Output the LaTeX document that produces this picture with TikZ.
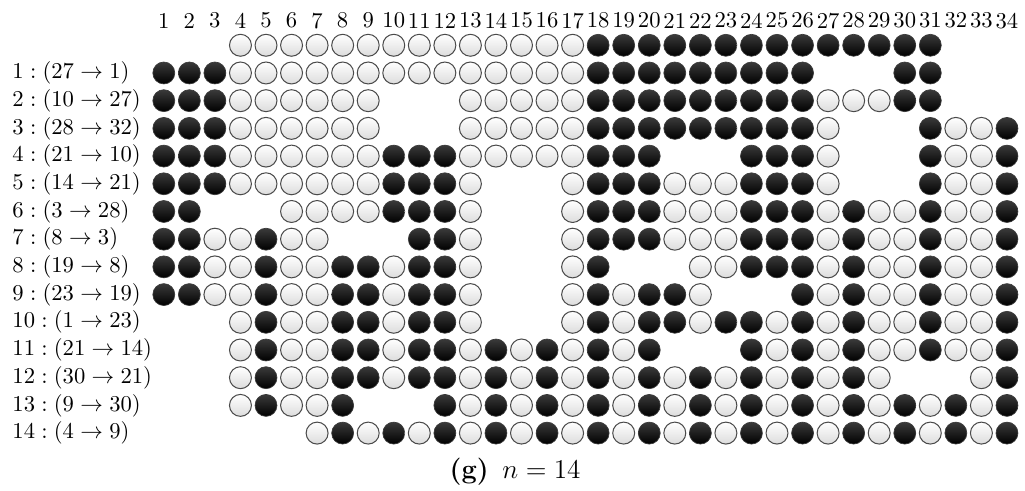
\documentclass[tikz,border=0pt]{standalone}
\usepackage{amsmath,amssymb}
\usepackage{tikz}
\definecolor{coinRim}{HTML}{4A4A4A}
\definecolor{coinShade}{HTML}{DCDCDC}
\definecolor{coinDark}{HTML}{3A3A3A}

\tikzset{
  coin/.style={circle,inner sep=0pt,minimum size=9.7pt},
  coin w/.style={coin,draw=coinRim,line width=0.45pt,top color=white,bottom color=coinShade},
  coin b/.style={coin,draw=coinDark,line width=0.3pt,top color=coinDark,bottom color=black},
  movelabel/.style={anchor=west,inner sep=0pt}
}

\begin{document}
\begin{tikzpicture}[x=11.29pt,y=-12.24pt]
  \useasboundingbox (-5.411,-1.635) rectangle (34.706,16.09);
  % column numbers
  \foreach \c in {1,...,34}
    \node (h\c) at (\c,-0.888) {\c};
  % moves
  \foreach \r/\a/\b in {1/27/1,2/10/27,3/28/32,4/21/10,5/14/21,6/3/28,7/8/3,
                        8/19/8,9/23/19,10/1/23,11/21/14,12/30/21,13/9/30,14/4/9}
    \node[movelabel] (l\r) at (-4.94,\r) {$\r:(\a\to\b)$};
  % coins, one row per state (x = empty)
  \foreach \r/\row in {
    0/{x,x,x,w,w,w,w,w,w,w,w,w,w,w,w,w,w,b,b,b,b,b,b,b,b,b,b,b,b,b,b,x,x,x},
    1/{b,b,b,w,w,w,w,w,w,w,w,w,w,w,w,w,w,b,b,b,b,b,b,b,b,b,x,x,x,b,b,x,x,x},
    2/{b,b,b,w,w,w,w,w,w,x,x,x,w,w,w,w,w,b,b,b,b,b,b,b,b,b,w,w,w,b,b,x,x,x},
    3/{b,b,b,w,w,w,w,w,w,x,x,x,w,w,w,w,w,b,b,b,b,b,b,b,b,b,w,x,x,x,b,w,w,b},
    4/{b,b,b,w,w,w,w,w,w,b,b,b,w,w,w,w,w,b,b,b,x,x,x,b,b,b,w,x,x,x,b,w,w,b},
    5/{b,b,b,w,w,w,w,w,w,b,b,b,w,x,x,x,w,b,b,b,w,w,w,b,b,b,w,x,x,x,b,w,w,b},
    6/{b,b,x,x,x,w,w,w,w,b,b,b,w,x,x,x,w,b,b,b,w,w,w,b,b,b,w,b,w,w,b,w,w,b},
    7/{b,b,w,w,b,w,w,x,x,x,b,b,w,x,x,x,w,b,b,b,w,w,w,b,b,b,w,b,w,w,b,w,w,b},
    8/{b,b,w,w,b,w,w,b,b,w,b,b,w,x,x,x,w,b,x,x,x,w,w,b,b,b,w,b,w,w,b,w,w,b},
    9/{b,b,w,w,b,w,w,b,b,w,b,b,w,x,x,x,w,b,w,b,b,w,x,x,x,b,w,b,w,w,b,w,w,b},
    10/{x,x,x,w,b,w,w,b,b,w,b,b,w,x,x,x,w,b,w,b,b,w,b,b,w,b,w,b,w,w,b,w,w,b},
    11/{x,x,x,w,b,w,w,b,b,w,b,b,w,b,w,b,w,b,w,b,x,x,x,b,w,b,w,b,w,w,b,w,w,b},
    12/{x,x,x,w,b,w,w,b,b,w,b,b,w,b,w,b,w,b,w,b,w,b,w,b,w,b,w,b,w,x,x,x,w,b},
    13/{x,x,x,w,b,w,w,b,x,x,x,b,w,b,w,b,w,b,w,b,w,b,w,b,w,b,w,b,w,b,w,b,w,b},
    14/{x,x,x,x,x,x,w,b,w,b,w,b,w,b,w,b,w,b,w,b,w,b,w,b,w,b,w,b,w,b,w,b,w,b}}
    \foreach \s [count=\c] in \row {
      \if\s x\else
        \node[coin \s] (k\r-\c) at (\c,\r) {};
      \fi
    };
  \node[font=\large] (cap) at (14.75,15.39) {\textbf{(g)}\enskip$n=14$};
\end{tikzpicture}
\end{document}
